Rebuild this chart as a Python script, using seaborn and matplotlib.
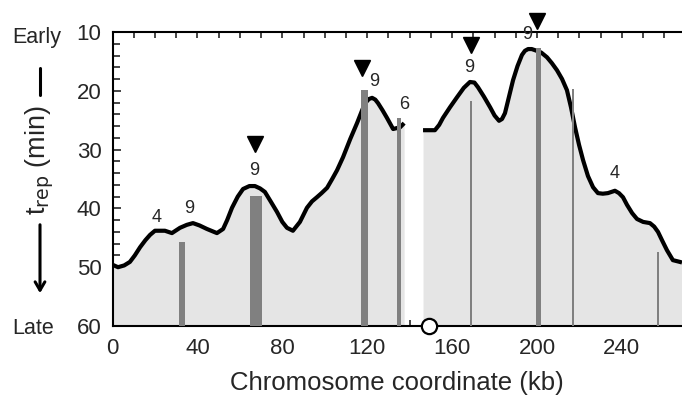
import numpy as np
import matplotlib
matplotlib.use("Agg")
import matplotlib.pyplot as plt
from matplotlib.ticker import MultipleLocator
from matplotlib.lines import Line2D
import seaborn as sns

# Replication-time profile (kb, t_rep in min), left and right of the gap
kb_left = [0.1, 2.6, 5.5, 8.2, 10.5, 13.0, 15.5, 17.7, 20.0, 24.7, 28.0, 31.8,
           35.0, 37.9, 41.0, 44.5, 49.2, 52.1, 54.0, 56.3, 59.0, 61.5, 64.5,
           67.1, 69.5, 71.8, 74.5, 77.5, 80.0, 82.2, 85.0, 88.3, 91.6, 94.0,
           96.3, 98.5, 101.1, 103.5, 105.8, 108.6, 112.0, 115.2, 117.5, 119.0,
           120.8, 122.3, 123.8, 125.1, 127.2, 129.3, 132.2, 135.5, 137.4]
trep_left = [49.6, 50.0, 49.7, 49.1, 48.0, 46.6, 45.4, 44.5, 43.8, 43.8, 44.2, 43.3,
             42.8, 42.5, 42.9, 43.5, 44.2, 43.5, 42.0, 39.9, 38.0, 36.7, 36.2,
             36.2, 36.6, 37.2, 38.8, 40.6, 42.3, 43.3, 43.8, 42.3, 39.9, 38.8,
             38.1, 37.4, 36.5, 35.0, 33.5, 31.3, 28.2, 25.5, 23.4, 22.1,
             21.4, 21.2, 21.5, 22.1, 23.3, 24.6, 26.5, 26.2, 25.5]
kb_right = [146.3, 151.9, 153.9, 155.7, 159.0, 162.3, 165.5, 168.4, 170.5, 172.2,
            175.0, 177.9, 180.0, 182.1, 183.5, 184.9, 186.8, 188.7, 190.8,
            192.9, 194.3, 195.8, 197.5, 199.1, 202.0, 204.7, 207.0, 209.4, 211.8,
            214.1, 216.0, 217.9, 219.8, 221.7, 224.0, 226.4, 228.7, 231.0,
            233.4, 236.7, 238.6, 240.5, 242.4, 244.8, 247.1, 250.0, 253.2, 255.2,
            257.0, 259.0, 261.2, 264.0, 267.3, 268.3]
trep_right = [26.7, 26.7, 25.8, 24.6, 22.8, 21.1, 19.5, 18.5, 18.6, 19.4,
              21.0, 22.8, 24.2, 25.1, 24.8, 23.8, 21.0, 18.2, 15.8,
              13.9, 13.2, 12.9, 12.9, 13.1, 13.5, 14.3, 15.3, 16.5, 18.0,
              19.9, 22.8, 26.2, 29.2, 31.8, 34.5, 36.4, 37.4, 37.5,
              37.4, 37.0, 37.4, 38.1, 39.4, 40.8, 41.8, 42.3, 42.5, 43.1,
              44.0, 45.5, 47.1, 48.8, 49.1, 49.2]

# origin bars
bar_kb = [32.7, 67.6, 118.7, 135.0, 168.9, 200.7, 217.0, 257.0]
bar_top = [45.7, 37.9, 19.9, 24.6, 21.7, 12.7, 19.7, 47.4]
bar_width = [2.8, 5.7, 3.3, 1.9, 0.7, 2.4, 0.7, 0.7]

# triangles and number labels
tri_kb = [67.1, 117.5, 168.9, 200.0]
tri_trep = [29.1, 16.2, 12.2, 8.2]
lab_kb = [20.9, 36.0, 66.7, 123.2, 137.3, 168.0, 195.3, 236.7]
lab_trep = [41.5, 40.1, 33.6, 18.5, 22.4, 16.0, 10.5, 34.0]
lab_text = ["4", "9", "9", "9", "6", "9", "9", "4"]

centromere_kb = 149.1

sns.set_style("ticks")
plt.rcParams['font.family'] = ['Liberation Sans', 'DejaVu Sans']

fig = plt.figure(figsize=(6.82, 3.96), dpi=100)
ax = fig.add_axes([112.5 / 682, 1 - 326 / 396, 1 - 112.5 / 682, (326 - 32) / 396])

fill_col = "#e5e5e5"
ax.fill_between(kb_left, trep_left, 60, color=fill_col, lw=0, zorder=1)
ax.fill_between(kb_right, trep_right, 60, color=fill_col, lw=0, zorder=1)

for xs, ys in [(kb_left, trep_left), (kb_right, trep_right)]:
    sns.lineplot(x=xs, y=ys, sort=False, estimator=None, color="black",
                 lw=3.0, ax=ax, zorder=3, solid_joinstyle="round",
                 solid_capstyle="butt")

heights = [60 - t for t in bar_top]
ax.bar(bar_kb, heights, bottom=bar_top, width=bar_width, color="#808080",
       lw=0, zorder=4)

ax.plot(tri_kb, tri_trep, ls="none", marker="v", ms=11, color="black",
        clip_on=False, zorder=6)
for x, y, s in zip(lab_kb, lab_trep, lab_text):
    ax.text(x, y, s, ha="center", va="center", fontsize=13, zorder=6, clip_on=False)

ax.plot([centromere_kb], [60], ls="none", marker="o", ms=11, mfc="white",
        mec="black", mew=1.6, clip_on=False, zorder=7)

ax.set_xlim(0, 268.3)
ax.set_ylim(60, 10)
ax.xaxis.set_major_locator(MultipleLocator(40))
ax.xaxis.set_minor_locator(MultipleLocator(10))
ax.yaxis.set_major_locator(MultipleLocator(10))
ax.yaxis.set_minor_locator(MultipleLocator(2))
ax.tick_params(axis="x", which="both", direction="in", top=True, length=4,
               width=1.2, labelsize=16, pad=9)
ax.tick_params(axis="y", which="major", direction="in", length=6, width=1.2,
               labelsize=16, pad=8)
ax.tick_params(axis="y", which="minor", direction="in", length=5, width=1.2)
for side in ["left", "bottom", "top"]:
    ax.spines[side].set_linewidth(1.5)
    ax.spines[side].set_color("black")
ax.spines["right"].set_visible(False)
ax.set_xlabel("")
ax.set_ylabel("")

fig.text(397 / 682, 1 - 383 / 396, "Chromosome coordinate (kb)", ha="center",
         va="center", fontsize=18.5)
fig.text(12 / 682, 1 - 37 / 396, "Early", ha="left", va="center", fontsize=15.5)
fig.text(12 / 682, 1 - 328 / 396, "Late", ha="left", va="center", fontsize=15.5)

# y label with dash and down arrow
fig.text(40 / 682, 1 - 160 / 396, r"t$_{\mathrm{rep}}$ (min)", rotation=90,
         ha="center", va="center", fontsize=19.5)
fig.add_artist(Line2D([40 / 682, 40 / 682], [1 - 68 / 396, 1 - 95 / 396],
                      color="black", lw=2.2))
ax.annotate("", xy=(40 / 682, 1 - 296 / 396), xytext=(40 / 682, 1 - 222 / 396),
            xycoords="figure fraction", textcoords="figure fraction",
            arrowprops=dict(arrowstyle="->,head_length=0.6,head_width=0.35",
                            color="black", lw=2.2))

fig.savefig("out.png", dpi=100)
